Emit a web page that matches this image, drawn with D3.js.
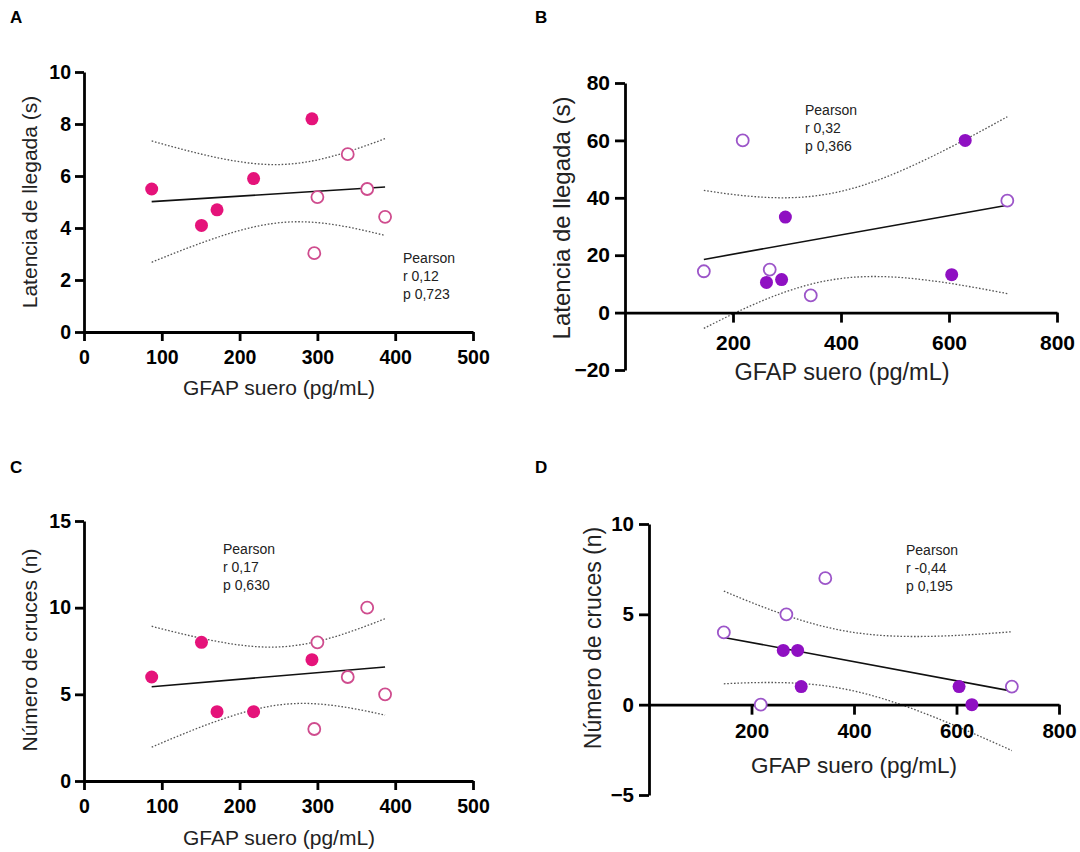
<!DOCTYPE html>
<html>
<head>
<meta charset="utf-8">
<script src="https://cdn.jsdelivr.net/npm/d3@7"></script>
<style>
  body { margin: 0; background: #fff; }
  text { font-family: Arial, "Liberation Sans", sans-serif; }
</style>
</head>
<body>
<div id="chart"></div>
<script>
// GFAP serum values (pg/mL), shared by panels A/C and B/D
const gfapAC_filled = [87, 151, 171, 218, 293];
const gfapAC_open = [296, 300, 339, 364, 387];
const gfapBD_filled = [262, 290, 297, 605, 630];
const gfapBD_open = [146, 218, 268, 344, 708];

// A: latencia de llegada (s)
const latA_filled = [5.5, 4.1, 4.7, 5.9, 8.2];
const latA_open = [3.03, 5.19, 6.84, 5.5, 4.43];
// B: latencia de llegada (s)
const latB_filled = [10.5, 11.5, 33.3, 13.2, 60];
const latB_open = [14.4, 60, 15, 6, 39];
// C: numero de cruces
const crucesC_filled = [6, 8, 4, 4, 7];
const crucesC_open = [3, 8, 6, 10, 5];
// D: numero de cruces
const crucesD_filled = [3, 3, 1, 1, 0];
const crucesD_open = [4, 0, 5, 7, 1];

const pearsonA = ["Pearson", "r 0,12", "p 0,723"];
const pearsonB = ["Pearson", "r 0,32", "p 0,366"];
const pearsonC = ["Pearson", "r 0,17", "p 0,630"];
const pearsonD = ["Pearson", "r -0,44", "p 0,195"];

const ticksX_AC = [0, 100, 200, 300, 400, 500];
const ticksX_BD = [200, 400, 600, 800];
const ticksY_A = [0, 2, 4, 6, 8, 10];
const ticksY_B = [-20, 0, 20, 40, 60, 80];
const ticksY_C = [0, 5, 10, 15];
const ticksY_D = [-5, 0, 5, 10];

const xTitle = "GFAP suero (pg/mL)";

const pink = "#e5137a", pinkOpen = "#cf4c8e";
const purple = "#8f10c2", purpleOpen = "#9c55c9";

const svg = d3.select("#chart").append("svg")
    .attr("width", 1080)
    .attr("height", 852);

function zip(xs, ys) { return xs.map((x, i) => ({x: x, y: ys[i]})); }

// linear fit + 95% confidence band of the line (t for df = 8)
function fit(pts) {
    const n = pts.length;
    const mx = d3.mean(pts, d => d.x), my = d3.mean(pts, d => d.y);
    const sxx = d3.sum(pts, d => (d.x - mx) ** 2);
    const sxy = d3.sum(pts, d => (d.x - mx) * (d.y - my));
    const b = sxy / sxx, a = my - b * mx;
    const sse = d3.sum(pts, d => (d.y - a - b * d.x) ** 2);
    const s = Math.sqrt(sse / (n - 2));
    const t = 2.306;
    const [x0, x1] = d3.extent(pts, d => d.x);
    const grid = d3.range(0, 61).map(i => x0 + (x1 - x0) * i / 60);
    const band = grid.map(x => {
        const yh = a + b * x;
        const h = t * s * Math.sqrt(1 / n + (x - mx) ** 2 / sxx);
        return {x: x, lo: yh - h, hi: yh + h};
    });
    return {a, b, x0, x1, band};
}

function panel(c) {
    const g = svg.append("g");
    const x = d3.scaleLinear().domain(c.xDomain).range([c.left, c.right]);
    const y = d3.scaleLinear().domain(c.yDomain).range([c.bottom, c.top]);

    const filled = zip(c.xf, c.yf), open = zip(c.xo, c.yo);
    const all = filled.concat(open);
    const f = fit(all);

    // confidence band
    ["lo", "hi"].forEach(k => {
        g.append("path")
            .datum(f.band)
            .attr("fill", "none")
            .attr("stroke", "#555")
            .attr("stroke-width", 1.3)
            .attr("stroke-dasharray", "1.6,1.8")
            .attr("d", d3.line().x(d => x(d.x)).y(d => y(d[k])));
    });

    // regression line
    g.append("line")
        .attr("x1", x(f.x0)).attr("y1", y(f.a + f.b * f.x0))
        .attr("x2", x(f.x1)).attr("y2", y(f.a + f.b * f.x1))
        .attr("stroke", "#111")
        .attr("stroke-width", 1.6);

    // axes
    const yAxis = g.append("g")
        .attr("transform", "translate(" + c.left + ",0)")
        .call(d3.axisLeft(y).tickValues(c.yTicks).tickSize(c.tick).tickSizeOuter(0).tickPadding(c.yPad));
    const xAxis = g.append("g")
        .attr("transform", "translate(0," + y(0) + ")")
        .call(d3.axisBottom(x).tickValues(c.xTicks).tickSize(c.tick).tickSizeOuter(0).tickPadding(c.xPad));
    [xAxis, yAxis].forEach(ax => {
        ax.select(".domain").attr("stroke", "#000").attr("stroke-width", 2.8);
        ax.selectAll(".tick line").attr("stroke", "#000").attr("stroke-width", 2.8);
        ax.selectAll(".tick text")
            .attr("fill", "#000")
            .style("font-size", c.tickFont + "px")
            .style("font-weight", "bold");
    });

    // points
    g.selectAll(".open").data(open).join("circle")
        .attr("cx", d => x(d.x)).attr("cy", d => y(d.y))
        .attr("r", 6)
        .attr("fill", "#fff")
        .attr("stroke", c.openColor)
        .attr("stroke-width", 1.8);
    g.selectAll(".filled").data(filled).join("circle")
        .attr("cx", d => x(d.x)).attr("cy", d => y(d.y))
        .attr("r", 6.5)
        .attr("fill", c.color);

    // titles
    g.append("text")
        .attr("x", c.xTitlePos[0]).attr("y", c.xTitlePos[1])
        .attr("text-anchor", "middle")
        .attr("fill", "#222")
        .style("font-size", c.titleFont + "px")
        .text(xTitle);
    g.append("text")
        .attr("transform", "translate(" + c.yTitlePos[0] + "," + c.yTitlePos[1] + ") rotate(-90)")
        .attr("text-anchor", "middle")
        .attr("fill", "#222")
        .style("font-size", c.yTitleFont + "px")
        .text(c.yTitle);

    // stats
    g.selectAll(".stat").data(c.stats).join("text")
        .attr("x", c.statPos[0])
        .attr("y", (d, i) => c.statPos[1] + i * 17.8)
        .attr("fill", "#222")
        .style("font-size", "14px")
        .text(d => d);

    // panel letter
    g.append("text")
        .attr("x", c.letterPos[0]).attr("y", c.letterPos[1])
        .style("font-size", "17px")
        .style("font-weight", "bold")
        .text(c.letter);
}

panel({
    letter: "A", letterPos: [10, 23],
    xf: gfapAC_filled, yf: latA_filled, xo: gfapAC_open, yo: latA_open,
    xDomain: [0, 500], yDomain: [0, 10], left: 84, right: 473, top: 72, bottom: 332,
    xTicks: ticksX_AC, yTicks: ticksY_A, tick: 9, xPad: 9, yPad: 4, tickFont: 19.5,
    color: pink, openColor: pinkOpen,
    xTitlePos: [279, 395], titleFont: 21,
    yTitle: "Latencia de llegada (s)", yTitlePos: [37, 202], yTitleFont: 21,
    stats: pearsonA, statPos: [403, 263]
});

panel({
    letter: "B", letterPos: [535, 23],
    xf: gfapBD_filled, yf: latB_filled, xo: gfapBD_open, yo: latB_open,
    xDomain: [0, 800], yDomain: [-20, 80], left: 625, right: 1057, top: 83, bottom: 370,
    xTicks: ticksX_BD, yTicks: ticksY_B, tick: 10, xPad: 12, yPad: 5, tickFont: 21,
    color: purple, openColor: purpleOpen,
    xTitlePos: [842, 380], titleFont: 23.5,
    yTitle: "Latencia de llegada (s)", yTitlePos: [570, 218], yTitleFont: 24,
    stats: pearsonB, statPos: [805, 115]
});

panel({
    letter: "C", letterPos: [10, 473],
    xf: gfapAC_filled, yf: crucesC_filled, xo: gfapAC_open, yo: crucesC_open,
    xDomain: [0, 500], yDomain: [0, 15], left: 84, right: 473, top: 521, bottom: 781,
    xTicks: ticksX_AC, yTicks: ticksY_C, tick: 9, xPad: 9, yPad: 4, tickFont: 19.5,
    color: pink, openColor: pinkOpen,
    xTitlePos: [279, 845], titleFont: 21,
    yTitle: "Número de cruces (n)", yTitlePos: [37, 650], yTitleFont: 21,
    stats: pearsonC, statPos: [223, 554]
});

panel({
    letter: "D", letterPos: [535, 473],
    xf: gfapBD_filled, yf: crucesD_filled, xo: gfapBD_open, yo: crucesD_open,
    xDomain: [0, 800], yDomain: [-5, 10], left: 649, right: 1059, top: 524, bottom: 795,
    xTicks: ticksX_BD, yTicks: ticksY_D, tick: 10, xPad: 9, yPad: 5, tickFont: 20.5,
    color: purple, openColor: purpleOpen,
    xTitlePos: [854, 773], titleFont: 22.5,
    yTitle: "Número de cruces (n)", yTitlePos: [601, 638], yTitleFont: 23,
    stats: pearsonD, statPos: [906, 555]
});
</script>
</body>
</html>
